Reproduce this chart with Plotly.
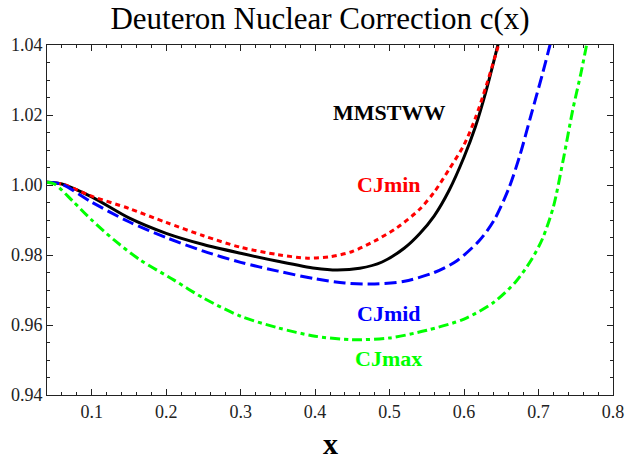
import plotly.graph_objects as go

mmstww_x = [0.04, 0.06, 0.10, 0.15, 0.20, 0.25, 0.30, 0.35, 0.40, 0.43, 0.46, 0.49,
            0.52, 0.54, 0.56, 0.58, 0.60, 0.615, 0.63, 0.646]
mmstww_y = [1.0008, 1.0003, 0.9966, 0.9906, 0.9862, 0.9830, 0.9805, 0.9782, 0.9762,
            0.9757, 0.9762, 0.9780, 0.9820, 0.9860, 0.9912, 0.9985, 1.0080, 1.0165,
            1.0272, 1.0405]

cjmin_x = [0.04, 0.06, 0.10, 0.15, 0.20, 0.25, 0.30, 0.35, 0.39, 0.42, 0.45, 0.48,
           0.51, 0.54, 0.56, 0.58, 0.60, 0.615, 0.63, 0.647]
cjmin_y = [1.0008, 1.0003, 0.9968, 0.9933, 0.9893, 0.9855, 0.9822, 0.9801, 0.9791,
           0.9795, 0.9810, 0.9840, 0.9878, 0.9930, 0.9980, 1.0045, 1.0115, 1.0190,
           1.0285, 1.0405]

cjmid_x = [0.04, 0.06, 0.10, 0.15, 0.20, 0.25, 0.30, 0.35, 0.40, 0.44, 0.48, 0.52,
           0.56, 0.59, 0.62, 0.64, 0.66, 0.675, 0.69, 0.705, 0.716]
cjmid_y = [1.0008, 1.0002, 0.9951, 0.9895, 0.9850, 0.9811, 0.9779, 0.9754, 0.9732,
           0.9720, 0.9717, 0.9725, 0.9750, 0.9783, 0.9840, 0.9898, 0.9990, 1.0085,
           1.0200, 1.0315, 1.0405]

cjmax_x = [0.04, 0.05, 0.075, 0.10, 0.13, 0.165, 0.21, 0.25, 0.30, 0.35, 0.40, 0.45,
           0.50, 0.55, 0.60, 0.64, 0.67, 0.69, 0.705, 0.72, 0.733, 0.746, 0.757, 0.765]
cjmax_y = [1.0008, 1.0003, 0.9953, 0.9900, 0.9843, 0.9786, 0.9729, 0.9677, 0.9625,
           0.9592, 0.9568, 0.9558, 0.9563, 0.9585, 0.9617, 0.9665, 0.9725, 0.9785,
           0.9845, 0.9938, 1.0070, 1.0215, 1.0320, 1.0405]

labels = ["MMSTWW", "CJmin", "CJmid", "CJmax"]
label_x = [0.499, 0.499, 0.499, 0.499]
label_y = [1.0206, 1.0001, 0.9634, 0.9505]

SERIF = "Times New Roman, Liberation Serif, serif"

series = [
    (mmstww_x, mmstww_y, "black", "solid"),
    (cjmin_x, cjmin_y, "#ff0000", "5px,4px"),
    (cjmid_x, cjmid_y, "#0000ff", "12px,5px"),
    (cjmax_x, cjmax_y, "#00ff00", "10px,4px,4px,4px"),
]

fig = go.Figure()
for (xs, ys, color, dash), name in zip(series, labels):
    fig.add_trace(
        go.Scatter(
            x=xs,
            y=ys,
            mode="lines",
            name=name,
            line=dict(color=color, width=3, dash=dash, shape="spline", smoothing=0.8),
            showlegend=False,
        )
    )

for text, lx, ly, (_, _, color, _) in zip(labels, label_x, label_y, series):
    fig.add_annotation(
        x=lx, y=ly, text="<b>%s</b>" % text, showarrow=False,
        font=dict(family=SERIF, size=22, color=color),
    )

fig.add_annotation(
    x=0.421, y=-0.192, xref="x", yref="paper", text="<b>x</b>", showarrow=False,
    font=dict(family=SERIF, size=30, color="black"), yanchor="bottom",
)

axis_style = dict(
    showline=True, linecolor="#222", linewidth=1, mirror="allticks",
    ticks="inside", ticklen=6, tickcolor="#222", showgrid=False, zeroline=False,
    automargin=False,
    tickfont=dict(family=SERIF, size=18, color="#222"),
)

fig.update_xaxes(
    range=[0.04, 0.8], tick0=0, dtick=0.1,
    minor=dict(ticks="inside", ticklen=3, dtick=0.02, tickcolor="#222"),
    **axis_style,
)
fig.update_yaxes(
    range=[0.94, 1.04], tick0=0.94, dtick=0.02, tickformat=".2f",
    minor=dict(ticks="inside", ticklen=3, dtick=0.005, tickcolor="#222"),
    **axis_style,
)

fig.update_layout(
    width=625,
    height=463,
    margin=dict(l=47, r=12, t=45, b=68),
    paper_bgcolor="white",
    plot_bgcolor="white",
    title=dict(
        text="Deuteron Nuclear Correction c(x)",
        x=0.512, xref="container", xanchor="center",
        y=0.961, yref="container", yanchor="middle",
        font=dict(family=SERIF, size=31, color="black"),
    ),
)

# drop the default 8px body margin so the figure fills the window exactly
fig.write_html(
    "out.html",
    config={"displayModeBar": False},
    post_script="document.body.style.margin='0';document.body.style.overflow='hidden';",
)
